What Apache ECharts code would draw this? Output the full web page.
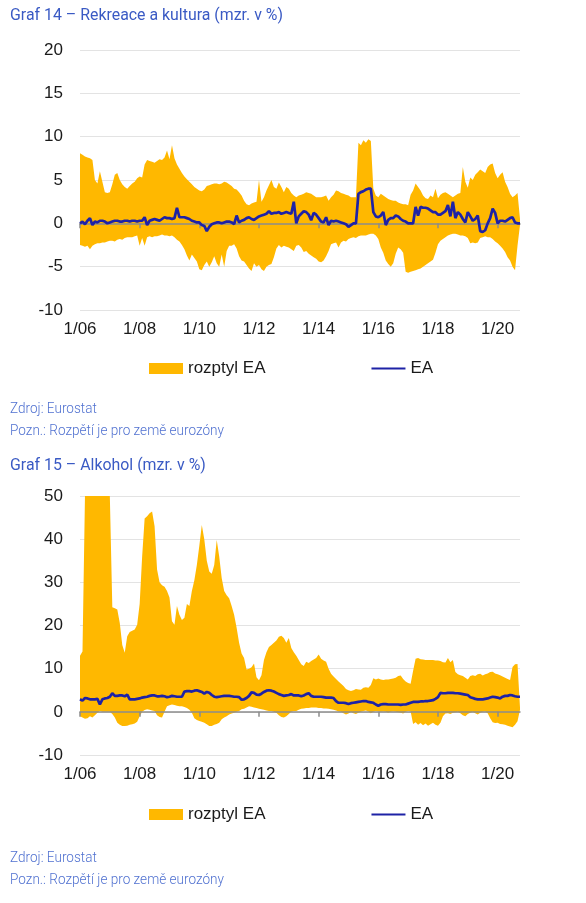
<!DOCTYPE html>
<html><head><meta charset="utf-8">
<script src="https://cdn.jsdelivr.net/npm/echarts@6/dist/echarts.min.js"></script>
<style>html,body{margin:0;padding:0;background:#fff}#c{width:586px;height:903px}</style>
</head><body><div id="c"></div>
<script>
// Monthly categories Jan 2006 .. Oct 2020
const startYear = 2006, nMonths = 178;
const categories = [];
for (let i = 0; i < nMonths; i++) {
  const m = i % 12 + 1, y = startYear + Math.floor(i / 12);
  categories.push(m + '/' + String(y % 100).padStart(2, '0'));
}

// Graf 14 – Rekreace a kultura
const max1 = [
8.1,7.9,7.7,7.6,7.5,7.3,5.0,4.6,6.0,4.8,
3.6,3.5,3.6,4.5,5.6,5.8,5.0,4.5,4.2,4.0,
4.3,4.6,4.8,5.2,5.4,5.3,6.8,7.3,7.2,7.1,
7.0,7.2,7.4,7.3,7.6,8.4,7.4,9.0,7.5,6.8,
6.3,5.8,5.4,5.1,4.8,4.5,4.2,4.0,3.8,3.7,
3.9,4.3,4.4,4.5,4.6,4.6,4.5,4.6,4.8,4.7,
4.5,4.3,4.0,3.9,3.6,3.2,2.6,2.2,2.1,2.3,
2.4,2.5,5.0,2.5,3.0,3.8,4.4,5.0,4.2,4.0,
4.7,4.2,3.6,4.2,4.0,3.5,3.2,3.0,3.2,3.3,
3.4,3.6,3.5,3.4,3.2,3.0,3.0,3.0,3.1,3.2,
2.6,3.0,3.3,3.8,3.7,3.5,3.4,3.3,3.2,3.0,
3.0,3.0,9.3,9.0,9.6,9.3,9.7,9.5,4.0,3.2,
3.0,3.4,3.2,3.0,2.8,2.7,2.6,2.6,2.4,2.3,
2.2,2.2,2.1,3.3,3.8,4.6,4.2,3.8,3.2,2.9,
2.8,3.2,3.0,4.0,2.9,3.3,3.5,3.6,3.4,3.2,
3.0,3.2,3.4,3.5,6.5,4.8,4.1,5.3,5.0,5.6,
5.9,6.2,6.0,5.8,6.5,6.8,6.9,5.8,5.2,5.6,
5.9,4.8,4.2,3.4,3.0,3.2,3.5,0.5];
const min1 = [
-2.5,-2.6,-2.7,-2.6,-3.0,-2.6,-2.4,-2.3,-2.3,-2.2,
-2.2,-2.1,-2.0,-2.0,-2.1,-1.9,-1.8,-1.9,-1.7,-1.6,
-1.6,-1.6,-1.5,-1.4,-2.6,-1.7,-2.6,-1.6,-1.5,-1.6,
-1.5,-1.5,-1.4,-1.3,-1.4,-1.4,-1.5,-1.4,-1.6,-1.9,
-2.1,-2.5,-3.0,-3.7,-4.3,-3.6,-4.0,-4.4,-5.3,-5.4,
-4.8,-4.4,-5.0,-4.5,-3.8,-4.6,-5.0,-3.6,-5.0,-3.2,
-2.6,-2.6,-2.4,-2.9,-3.8,-4.3,-4.4,-4.8,-5.2,-5.5,
-4.6,-5.0,-4.8,-5.3,-5.5,-5.0,-4.8,-4.7,-3.9,-2.9,
-2.5,-2.8,-2.6,-2.7,-2.8,-3.0,-3.2,-2.6,-2.5,-2.8,
-3.3,-3.2,-3.5,-3.7,-3.9,-4.1,-4.4,-4.5,-4.3,-3.8,
-3.2,-2.4,-2.3,-2.2,-2.8,-2.2,-2.0,-2.1,-1.8,-1.7,
-1.6,-1.7,-1.5,-1.4,-1.4,-1.4,-1.3,-1.2,-1.2,-1.4,
-1.8,-2.8,-3.4,-4.3,-4.7,-5.0,-4.6,-3.5,-2.8,-3.0,
-3.4,-5.6,-5.7,-5.6,-5.5,-5.4,-5.3,-5.2,-5.0,-4.8,
-4.6,-4.4,-4.2,-3.4,-2.4,-2.0,-1.8,-1.6,-1.4,-1.3,
-1.2,-1.2,-1.3,-1.4,-1.4,-1.5,-1.7,-2.3,-2.2,-2.3,
-2.2,-1.7,-1.6,-1.5,-1.6,-1.6,-1.8,-2.1,-2.3,-2.6,
-2.9,-3.3,-3.9,-4.3,-5.0,-5.4,-2.6,-0.2];
const ea1 = [
0.0,0.2,-0.1,0.3,0.6,-0.2,0.2,0.1,0.3,0.3,
0.2,0.0,0.1,0.2,0.3,0.3,0.2,0.2,0.3,0.3,
0.2,0.3,0.3,0.2,0.3,0.3,0.7,-0.2,0.3,0.4,
0.5,0.4,0.3,0.5,0.7,0.6,0.6,0.5,0.6,1.8,
0.7,0.7,0.7,0.6,0.5,0.3,0.2,0.1,0.1,-0.2,
-0.3,-0.9,-0.4,-0.1,0.0,0.1,0.1,0.0,0.1,0.2,
0.2,0.1,-0.1,0.9,0.1,0.3,0.4,0.6,0.7,0.5,
0.4,0.6,0.8,0.9,1.0,1.1,1.4,1.1,1.2,1.2,
1.3,1.1,1.2,1.3,1.2,1.1,2.5,0.0,0.8,1.1,
1.4,1.3,1.0,0.35,1.2,1.0,0.6,0.2,0.1,0.7,
-0.2,0.3,0.2,0.3,0.2,0.1,0.0,-0.1,-0.4,-0.2,
0.0,0.0,3.4,3.6,3.7,3.9,4.0,4.0,1.3,0.8,
0.7,0.9,1.3,-0.2,0.4,0.6,0.6,0.9,0.8,0.5,
0.3,0.2,0.0,0.0,0.0,1.9,0.9,1.9,1.8,1.8,
1.7,1.5,1.3,1.3,1.0,1.0,1.2,1.4,2.1,0.8,
2.5,0.6,1.3,1.0,0.5,0.1,1.3,0.8,0.3,0.5,
0.9,-0.9,-1.0,-0.8,0.0,0.6,1.7,1.2,0.0,0.3,
0.3,0.2,0.4,0.6,0.7,0.1,0.0,0.0];

// Graf 15 – Alkohol
const max2 = [
13,14,50,50,50,50,50,50,50,50,
50,50,50,24.2,24.0,23.7,20.6,15.5,13.7,17.5,
18.5,18.8,19.1,20.2,25,36,44.8,45.3,46.0,46.4,
43,33,30,29.3,29,28,26.5,21,20.2,24.5,
22.5,21.3,21.8,25,24.5,28,30.5,34,38.5,43.3,
40,35,32.5,32,34,39.8,36,31,28,27,
26.3,24.5,22.5,19.5,16,13.5,12.5,9.8,10,10.3,
11.2,8,7.3,8.5,12,13.8,15,15.5,16,16.5,
17.4,17.6,17.1,16,17.1,14.8,13.8,13,12,11.0,
10.6,11.6,11.3,11.8,12.1,12.5,13.3,12.3,11.9,11.6,
10.0,8.8,8.2,7.6,7.0,6.5,6.0,5.3,5.0,4.8,
5.0,5.3,5.2,5.1,5.6,5.7,5.6,6.2,7.8,7.5,
7.7,7.5,7.4,7.5,7.5,7.6,7.7,7.9,8.3,8.4,
7.6,7.0,6.7,6.5,9.5,12.3,12.5,12.2,12.1,12.0,
12.0,12.0,12.0,11.9,11.9,11.8,11.5,11.4,12.5,11.5,
12.0,9.2,8.7,8.5,8.3,7.9,7.5,8.3,8.5,8.3,
8.7,8.8,8.4,8.7,8.9,9.2,9.3,8.9,8.7,8.5,
8.2,7.9,7.6,7.4,10.4,11.0,11.1,1.0];
const min2 = [
-1.0,-1.3,-1.6,-1.5,-1.0,-1.3,-0.8,-0.2,0.2,0.0,
0.0,0.0,0.0,-0.5,-1.3,-2.5,-3.0,-3.3,-3.3,-3.2,
-3.0,-2.9,-2.7,-2.3,-1.0,0.0,0.4,0.6,0.5,0.3,
0.2,-0.8,-1.2,-1.3,0.0,1.3,1.5,1.7,1.6,1.4,
1.3,1.3,1.1,0.9,0.5,-0.2,-1.5,-1.9,-2.1,-2.3,
-2.5,-2.9,-3.3,-3.3,-3.0,-2.8,-2.5,-1.7,-1.3,-1.0,
-0.6,-0.4,-0.2,0.0,0.2,0.6,0.7,1.0,1.3,1.2,
1.0,0.9,0.7,0.6,0.5,0.3,0.2,0.2,0.0,-0.2,
-0.8,-1.2,-1.3,-1.0,-0.5,0.0,0.2,0.2,0.5,0.7,
0.8,0.9,0.9,1.0,1.0,1.0,0.9,0.9,0.8,0.8,
0.7,0.6,0.5,0.3,0.1,0.0,-0.3,-0.6,-0.4,0.0,
-0.3,-0.5,-0.2,0.0,0.2,0.3,0.1,-0.3,0.0,0.2,
0.1,0.0,0.1,0.0,-0.2,0.0,0.1,0.0,-0.1,-0.2,
-0.4,0.0,0.2,0.1,-2.8,-2.4,-3.0,-2.6,-3.1,-2.7,
-3.2,-2.9,-2.5,-3.0,-3.2,-2.5,-1.0,-0.4,-0.3,-0.5,
-0.2,-0.1,0.0,-0.3,-0.8,-1.0,-0.5,-0.2,0.0,-0.3,
-0.6,-0.2,0.0,0.1,-0.3,-1.5,-2.4,-2.6,-2.5,-2.8,
-2.9,-3.0,-3.2,-3.4,-3.6,-3.0,-2.2,0.5];
const ea2 = [
2.9,2.6,3.2,3.1,2.9,2.9,2.9,3.0,1.7,2.9,
3.1,3.2,3.5,4.3,3.7,3.7,3.8,3.8,3.6,4.0,
2.9,2.9,2.9,3.0,3.1,3.3,3.4,3.5,3.7,3.8,
3.8,3.6,3.6,3.7,3.6,3.4,3.5,3.7,3.6,3.5,
3.5,3.5,4.7,4.8,4.8,4.7,4.9,5.0,4.8,4.6,
4.2,4.6,4.4,3.9,3.5,3.4,3.5,3.6,3.7,3.7,
3.7,3.6,3.5,3.5,3.4,2.8,2.9,3.2,3.7,4.5,
4.4,4.0,3.9,4.2,4.6,4.9,5.0,4.9,4.7,4.4,
4.1,3.9,3.7,3.8,3.9,4.1,3.8,3.8,3.8,3.6,
3.8,4.1,4.3,3.7,3.5,3.5,3.5,3.5,3.4,3.3,
3.3,3.3,3.2,2.5,2.1,2.1,2.1,2.0,1.8,2.0,
2.1,2.2,2.3,2.4,2.5,2.5,2.3,2.2,2.1,1.7,
1.4,1.7,1.8,1.8,1.7,1.7,1.7,1.7,1.7,1.6,
1.7,1.7,1.9,2.1,2.3,2.3,2.3,2.4,2.4,2.5,
2.5,2.6,2.7,3.0,3.4,4.4,4.3,4.3,4.4,4.4,
4.4,4.3,4.3,4.2,4.1,4.0,3.9,3.4,3.2,3.0,
2.9,2.9,2.9,3.0,3.1,3.3,3.5,3.4,3.3,3.1,
3.5,3.7,3.7,3.9,3.8,3.6,3.5,3.5];

const yTicks1 = {min: -10, max: 20, interval: 5};
const yTicks2 = {min: -10, max: 50, interval: 10};
const titles = ['Graf 14 – Rekreace a kultura (mzr. v %)', 'Graf 15 – Alkohol (mzr. v %)'];
const noteSource = 'Zdroj: Eurostat';
const noteRange = 'Pozn.: Rozpětí je pro země eurozóny';
const nameBand = 'rozptyl EA', nameEA = 'EA';

const ORANGE = '#FFB800', BLUE = '#1E22A6', TXT = '#1a1a1a', AX = '#8c8c8c';
const TITLE_C = '#3a5ac4', NOTE_C = '#5071d0';
const LBL_FONT = 'Liberation Sans, Arial, sans-serif';

const mctx = document.createElement('canvas').getContext('2d');
function fitScale(text, font, target) { mctx.font = font; return target / mctx.measureText(text).width; }
const titleFont = '17px Roboto';
const noteFont = '300 15px Roboto';
const sTitle = fitScale(titles[0], titleFont, 273);
const sNote = fitScale(noteRange, noteFont, 214);

function txt(s, x, y, font, fill, sc) {
  return {type: 'text', x: x, y: y, scaleX: sc, style: {text: s, x: 0, y: 0, font: font, fill: fill, verticalAlign: 'middle', align: 'left'}, silent: true};
}

function xAxes(g) {
  return [
    {gridIndex: g, type: 'category', data: categories, boundaryGap: false, position: 'bottom',
     axisLine: {show: false, onZero: false}, axisTick: {show: false}, splitLine: {show: false},
     axisLabel: {interval: 23, fontSize: 17, color: TXT, margin: 11, fontFamily: LBL_FONT}},
    {gridIndex: g, type: 'category', data: categories, boundaryGap: false, position: 'bottom', z: 3,
     axisLine: {show: true, onZero: true, lineStyle: {color: AX, width: 1.5}},
     axisTick: {show: true, interval: 23, length: 5, lineStyle: {color: AX, width: 1.5}},
     axisLabel: {show: false}, splitLine: {show: false}}
  ];
}
function yAxis(g, t) {
  return {gridIndex: g, type: 'value', min: t.min, max: t.max, interval: t.interval,
    axisLine: {show: false}, axisTick: {show: false},
    axisLabel: {fontSize: 17, color: TXT, margin: 17, fontFamily: LBL_FONT},
    splitLine: {lineStyle: {color: '#e3e3e3', width: 1}}};
}
function seriesFor(xi, yi, lo, hi, ea, key) {
  const diff = hi.map((v, i) => +(v - lo[i]).toFixed(3));
  return [
    {name: 'lo' + key, type: 'line', xAxisIndex: xi, yAxisIndex: yi, data: lo, stack: key, stackStrategy: 'all',
     symbol: 'none', lineStyle: {width: 0, opacity: 0}, silent: true, z: 1},
    {name: nameBand, type: 'line', xAxisIndex: xi, yAxisIndex: yi, data: diff, stack: key, stackStrategy: 'all',
     symbol: 'none', lineStyle: {width: 0, opacity: 0}, areaStyle: {color: ORANGE, opacity: 1},
     itemStyle: {color: ORANGE}, z: 1},
    {name: nameEA, type: 'line', xAxisIndex: xi, yAxisIndex: yi, data: ea, symbol: 'none',
     lineStyle: {color: BLUE, width: 2.7}, itemStyle: {color: BLUE}, z: 5}
  ];
}
function legend(top) {
  return {top: top, left: 144, itemWidth: 34, itemHeight: 11, itemGap: 106, selectedMode: false,
    symbolKeepAspect: true,
    data: [{name: nameBand, icon: 'rect', itemStyle: {color: ORANGE}},
           {name: nameEA, icon: 'path://M0,0H40V2.6H0Z', itemStyle: {color: BLUE}}],
    textStyle: {fontSize: 17, color: TXT, fontFamily: LBL_FONT}};
}

const chart = echarts.init(document.getElementById('c'), null, {renderer: 'canvas'});
chart.setOption({
  animation: false,
  backgroundColor: '#fff',
  grid: [{left: 80, top: 50, width: 440, height: 260}, {left: 80, top: 496, width: 440, height: 259}],
  xAxis: xAxes(0).concat(xAxes(1)),
  yAxis: [yAxis(0, yTicks1), yAxis(1, yTicks2)],
  legend: [legend(355), legend(801)],
  series: seriesFor(0, 0, min1, max1, ea1, 'b14').concat(seriesFor(2, 1, min2, max2, ea2, 'b15')),
  graphic: [
    txt(titles[0], 10, 16, titleFont, TITLE_C, sTitle),
    txt(noteSource, 10, 409, noteFont, NOTE_C, sNote),
    txt(noteRange, 10, 431, noteFont, NOTE_C, sNote),
    txt(titles[1], 10, 466, titleFont, TITLE_C, sTitle),
    txt(noteSource, 10, 858, noteFont, NOTE_C, sNote),
    txt(noteRange, 10, 880, noteFont, NOTE_C, sNote)
  ]
});
</script></body></html>
